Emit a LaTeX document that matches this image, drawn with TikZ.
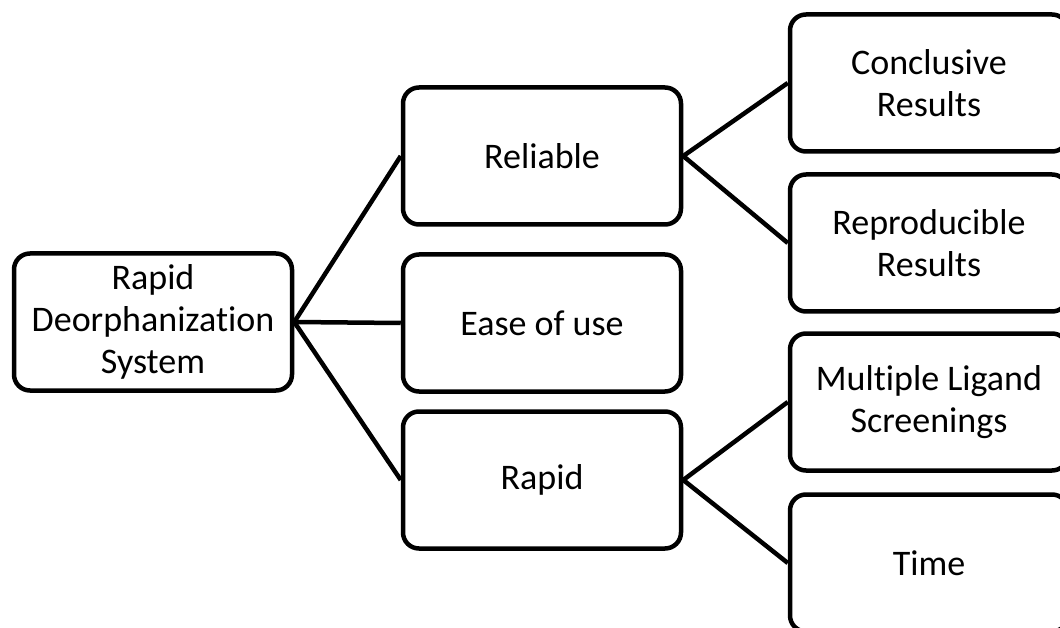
\documentclass[tikz,border=0pt]{standalone}
\usepackage{fontspec}
\setmainfont{Carlito}[Ligatures=NoCommon]

\begin{document}
\begin{tikzpicture}[x=1pt, y=-1pt, line width=4.5pt,
    box/.style={draw, rounded corners=16pt, minimum width=278pt, minimum height=137pt,
      align=center, inner sep=0pt, font=\fontsize{36}{42}\selectfont}]
    \useasboundingbox (0,0) rectangle (1060,628);
    \node[box] (root) at (153,322) {Rapid\\Deorphanization\\System};
    \node[box] (rel) at (542,156) {Reliable};
    \node[box] (ease) at (542,323) {Ease of use};
    \node[box] (rap) at (542,480) {Rapid};
    \foreach \name/\y/\txt in {conc/83/{Conclusive\\Results},repr/243/{Reproducible\\Results},
        mult/402/{Multiple Ligand\\Screenings},time/563/Time}
      \node[box] (\name) at (929,\y) {\txt};
    \foreach \a/\b in {root/rel,root/ease,root/rap,rel/conc,rel/repr,rap/mult,rap/time}
      \draw (\a.east) -- (\b.west);
  \end{tikzpicture}
\end{document}
